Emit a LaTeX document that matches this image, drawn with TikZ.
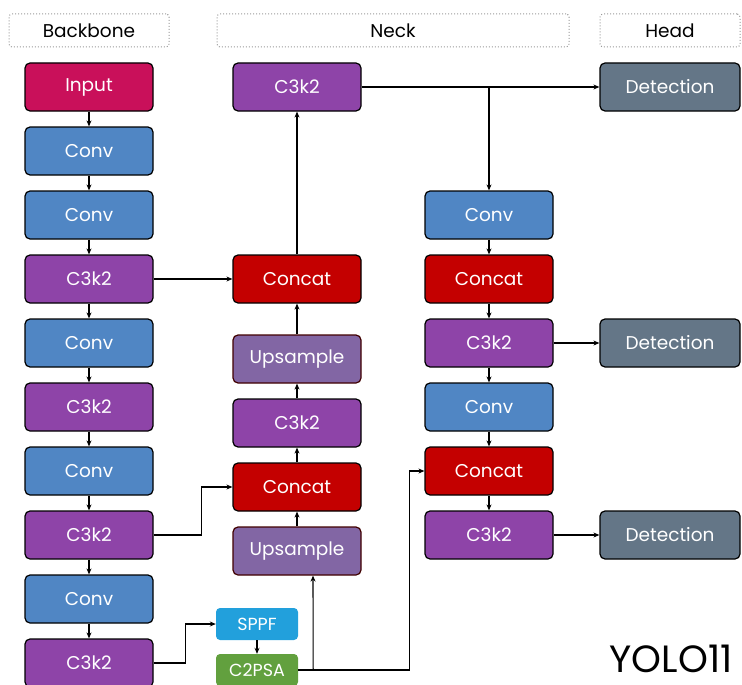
\documentclass[tikz,border=0pt]{standalone}
\usepackage{fontspec}
\setmainfont{Poppins}
\usetikzlibrary{positioning,arrows.meta}
\definecolor{cinput}{RGB}{201,16,90}
\definecolor{cconv}{RGB}{80,134,196}
\definecolor{cckk}{RGB}{142,68,168}
\definecolor{ccat}{RGB}{196,0,0}
\definecolor{cups}{RGB}{130,102,164}
\definecolor{cdet}{RGB}{100,118,135}
\definecolor{csppf}{RGB}{34,160,220}
\definecolor{cpsa}{RGB}{98,160,62}

\begin{document}
\begin{tikzpicture}[x=1pt, y=-1pt,
  blk/.style={draw=black, line width=1.2pt, rounded corners=5pt, minimum width=128pt, minimum height=48pt, inner sep=0pt, text=white, font=\fontsize{18.5}{22}\selectfont},
  small/.style={rounded corners=4pt, minimum width=82pt, minimum height=32pt, inner sep=0pt, text=white, font=\fontsize{17.5}{20}\selectfont},
  hdr/.style={draw=gray!80, dotted, line width=1pt, rounded corners=3pt, minimum height=33pt, inner sep=0pt, font=\fontsize{18.5}{22}\selectfont},
  arr/.style={-{Stealth[length=6pt,width=5pt]}, line width=1.1pt}]
\useasboundingbox (0,0) rectangle (742,685);

% En-têtes
\node[hdr, minimum width=160pt] (hB) at (89,30.5) {Backbone};
\node[hdr, minimum width=352pt] (hN) at (393,30.5) {Neck};
\node[hdr, minimum width=140pt] (hH) at (670,30.5) {Head};

% Backbone
\node[blk, fill=cinput] (b1) at (89,87) {Input};
\node[blk, fill=cconv] (b2) at (89,151) {Conv};
\node[blk, fill=cconv] (b3) at (89,215) {Conv};
\node[blk, fill=cckk] (b4) at (89,279) {C3k2};
\node[blk, fill=cconv] (b5) at (89,343) {Conv};
\node[blk, fill=cckk] (b6) at (89,407) {C3k2};
\node[blk, fill=cconv] (b7) at (89,471) {Conv};
\node[blk, fill=cckk] (b8) at (89,535) {C3k2};
\node[blk, fill=cconv] (b9) at (89,599) {Conv};
\node[blk, fill=cckk] (b10) at (89,663) {C3k2};

% SPPF et C2PSA
\node[small, fill=csppf] (sppf) at (257,624) {SPPF};
\node[small, fill=cpsa] (psa) at (257,670) {C2PSA};

% Neck, colonne montante
\node[blk, fill=cckk] (nk1) at (297,87) {C3k2};
\node[blk, fill=ccat] (nc1) at (297,279) {Concat};
\node[blk, fill=cups, draw=black!75!red] (nu1) at (297,359) {Upsample};
\node[blk, fill=cckk] (nk2) at (297,423) {C3k2};
\node[blk, fill=ccat] (nc2) at (297,487) {Concat};
\node[blk, fill=cups, draw=black!75!red] (nu2) at (297,551) {Upsample};

% Neck, colonne descendante
\node[blk, fill=cconv] (mv1) at (489,215) {Conv};
\node[blk, fill=ccat] (mc1) at (489,279) {Concat};
\node[blk, fill=cckk] (mk1) at (489,343) {C3k2};
\node[blk, fill=cconv] (mv2) at (489,407) {Conv};
\node[blk, fill=ccat] (mc2) at (489,471) {Concat};
\node[blk, fill=cckk] (mk2) at (489,535) {C3k2};

% Head
\node[blk, fill=cdet, minimum width=140pt] (d1) at (670,87) {Detection};
\node[blk, fill=cdet, minimum width=140pt] (d2) at (670,343) {Detection};
\node[blk, fill=cdet, minimum width=140pt] (d3) at (670,535) {Detection};

\node[inner sep=0pt] (title) at (671,659) {\fontsize{38}{42}\selectfont YOLO11};

% Liaisons du backbone
\foreach \a/\b in {b1/b2, b2/b3, b3/b4, b4/b5, b5/b6, b6/b7, b7/b8, b8/b9, b9/b10}
  \draw[arr] (\a) -- (\b);
\draw[arr] (b4) -- (nc1);
\draw[arr] (b8.east) -- ++(48,0) |- (nc2.west);
\draw[arr] (b10.east) -- ++(32,0) |- (sppf.west);
\draw[arr] (sppf) -- (psa);

% Liaisons du neck
\draw[arr] (psa.east) -- ++(111,0) |- (mc2.west);
\draw[arr] ([xshift=15pt]psa.east) -- ([xshift=16pt]nu2.south);
\foreach \a/\b in {nu2/nc2, nc2/nk2, nk2/nu1, nu1/nc1, nc1/nk1}
  \draw[arr] (\a) -- (\b);
\draw[arr] (nk1) -- (d1);
\draw[arr] (mv1 |- nk1) -- (mv1);
\foreach \a/\b in {mv1/mc1, mc1/mk1, mk1/mv2, mv2/mc2, mc2/mk2}
  \draw[arr] (\a) -- (\b);
\draw[arr] (mk1) -- (d2);
\draw[arr] (mk2) -- (d3);
\end{tikzpicture}
\end{document}
